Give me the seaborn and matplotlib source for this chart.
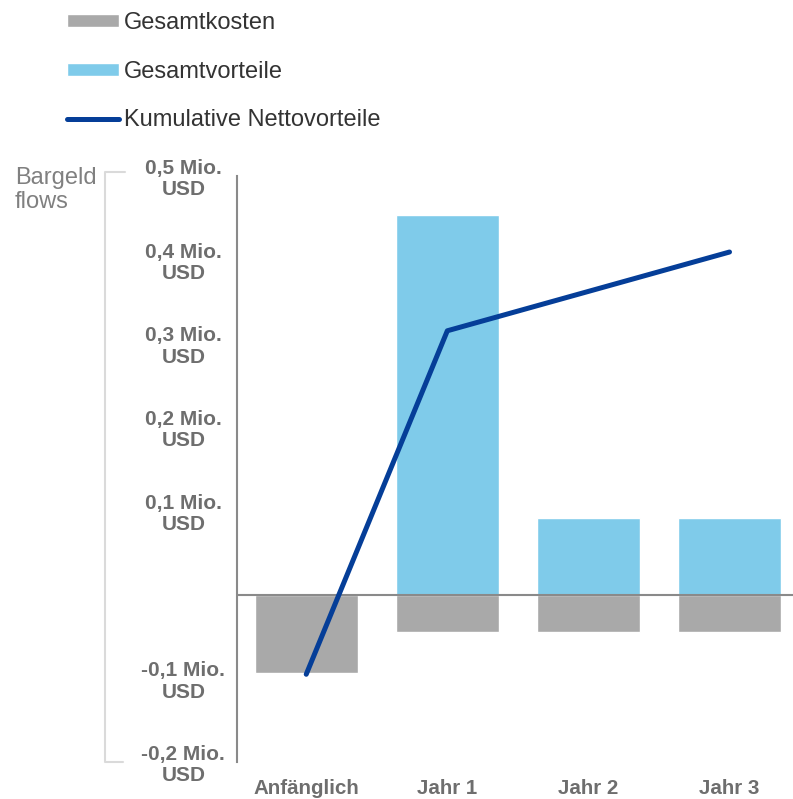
import numpy as np
import pandas as pd
import matplotlib
matplotlib.use('Agg')
import matplotlib.pyplot as plt
import seaborn as sns
from matplotlib.patches import Patch
from matplotlib.lines import Line2D

# Daten
kategorien = ['Anfänglich', 'Jahr 1', 'Jahr 2', 'Jahr 3']
gesamtkosten = [-0.093, -0.045, -0.045, -0.045]
gesamtvorteile = [0.0, 0.453, 0.092, 0.092]
netto_kumuliert = [-0.095, 0.315, 0.362, 0.409]
y_ticks = [-0.2, -0.1, 0.1, 0.2, 0.3, 0.4, 0.5]
y_labels = ['-0,2 Mio.\nUSD', '-0,1 Mio.\nUSD', '0,1 Mio.\nUSD', '0,2 Mio.\nUSD',
            '0,3 Mio.\nUSD', '0,4 Mio.\nUSD', '0,5 Mio.\nUSD']

grau = '#A9A9A9'
hellblau = '#7FCBEA'
dunkelblau = '#053E98'
textgrau = '#6E6E6E'

sns.set_style('white')
plt.rcParams['font.family'] = ['Liberation Sans', 'DejaVu Sans']

df = pd.DataFrame({'Kategorie': kategorien, 'Kosten': gesamtkosten,
                   'Vorteile': gesamtvorteile, 'Netto': netto_kumuliert})

fig = plt.figure(figsize=(7.93, 7.99), dpi=100)
ax = fig.add_axes([0.299, 0.046, 0.701, 0.734])

sns.barplot(data=df, x='Kategorie', y='Vorteile', color=hellblau, width=0.73,
            saturation=1, ax=ax)
sns.barplot(data=df, x='Kategorie', y='Kosten', color=grau, width=0.73,
            saturation=1, ax=ax)
ax.axhline(0, color='#8A8A8A', lw=1.5, zorder=3)
sns.lineplot(x=np.arange(len(kategorien)), y=df['Netto'], color=dunkelblau,
             lw=3.6, ax=ax, zorder=4, solid_capstyle='round')

ax.set_xlim(-0.49, 3.45)
ax.set_ylim(-0.2, 0.5)
ax.set_yticks(y_ticks)
ax.set_yticklabels(y_labels, fontsize=15, fontweight='bold', color=textgrau,
                   multialignment='center', linespacing=1.15)
ax.set_xticks(range(len(kategorien)))
ax.set_xticklabels(kategorien, fontsize=14.8, fontweight='bold', color=textgrau)
ax.tick_params(axis='y', length=0)
ax.tick_params(axis='x', length=0, pad=12)
for lab in ax.get_yticklabels():
    lab.set_horizontalalignment('center')
    lab.set_x(-0.088)
ax.set_xlabel('')
ax.set_ylabel('')
for s in ['top', 'right', 'bottom']:
    ax.spines[s].set_visible(False)
ax.spines['left'].set_color('#8A8A8A')
ax.spines['left'].set_linewidth(1.5)

# Klammer links
fig.add_artist(Line2D([125/793, 105/793, 105/793, 123/793],
                      [1-172/799, 1-172/799, 1-762/799, 1-762/799],
                      color='#DADADA', lw=1.5))
fig.text(15/793, 1-190/799, 'Bargeld\nflows', fontsize=17, color='#808080',
         va='center', ha='left', linespacing=1.1)

handles = [Patch(facecolor=grau), Patch(facecolor=hellblau),
           Line2D([0], [0], color=dunkelblau, lw=3.6, solid_capstyle='round')]
labels = ['Gesamtkosten', 'Gesamtvorteile', 'Kumulative Nettovorteile']
fig.legend(handles, labels, loc='upper left', bbox_to_anchor=(60/793, 1-5/799),
           borderaxespad=0, borderpad=0.3, frameon=False, fontsize=17,
           labelspacing=1.13, handlelength=2.2, handleheight=0.5,
           handletextpad=0.2, labelcolor='#333333')

fig.savefig('out.png', dpi=100)
